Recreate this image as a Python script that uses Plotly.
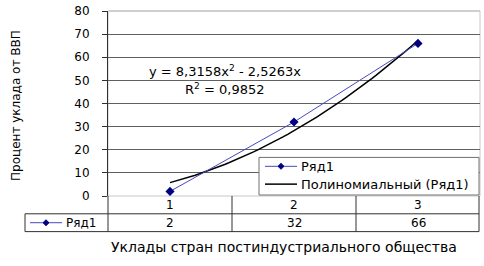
import plotly.graph_objects as go
import numpy as np

categories = [1, 2, 3]
series_name = "Ряд1"
values = [2, 32, 66]
trend_name = "Полиномиальный (Ряд1)"
trend_coef = [8.3158, -2.5263]  # a*x^2 + b*x
r2 = "0,9852"
y_ticks = [0, 10, 20, 30, 40, 50, 60, 70, 80]
y_title = "Процент уклада от ВВП"
x_title = "Уклады стран постиндустриального общества"

W, H = 484, 266
L, R, T, B = 108, 480, 9, 196  # plot area in pixels

def px(x):
    return (x - L) / (R - L)

def py(y):
    return (B - y) / (B - T)

FONT = "DejaVu Sans, Arial, sans-serif"
SER_LINE = "#4848c0"
SER_MARK = "#000080"

xt = np.linspace(categories[0], categories[-1], 60)
yt = trend_coef[0] * xt**2 + trend_coef[1] * xt

fig = go.Figure()
fig.add_trace(go.Scatter(
    x=xt, y=yt, mode="lines", name=trend_name,
    line=dict(color="black", width=1.5), showlegend=False))
fig.add_trace(go.Scatter(
    x=categories, y=values, mode="lines+markers", name=series_name,
    line=dict(color=SER_LINE, width=1),
    marker=dict(symbol="diamond", size=7, color=SER_MARK), showlegend=False))

def P(x0, y0, x1, y1, color, width=1, **kw):
    d = dict(type="line", xref="paper", yref="paper", x0=px(x0), x1=px(x1),
             y0=py(y0), y1=py(y1), line=dict(color=color, width=width))
    d.update(kw)
    return d

def diamond(cx, cy, r=3):
    return dict(type="path", xref="paper", yref="paper",
                path=f"M {px(cx)},{py(cy-r)} L {px(cx+r)},{py(cy)} L {px(cx)},{py(cy+r)} L {px(cx-r)},{py(cy)} Z",
                fillcolor=SER_MARK, line=dict(color=SER_MARK, width=1))

shapes = []
shapes.append(dict(type="rect", xref="paper", yref="paper", x0=0, x1=1, y0=0, y1=1,
                   line=dict(color="#c8c8c8", width=1), layer="below"))
# light plot-area border on top covers the top gridline
shapes.append(dict(type="line", xref="paper", yref="paper", x0=0.003, x1=1, y0=1, y1=1,
                   line=dict(color="#c8c8c8", width=1.5)))
grid = "#303030"
tbl_mid = 214
tbl_bot = 232
key_left = 25
tbl_right = 479
shapes.append(P(key_left, tbl_mid, tbl_right, tbl_mid, grid))
shapes.append(P(key_left, tbl_bot, tbl_right, tbl_bot, grid))
for xv, ytop in [(key_left, tbl_mid), (L, B), (232, B), (356, B), (tbl_right, B)]:
    shapes.append(P(xv, ytop, xv, tbl_bot, grid))
ky = (tbl_mid + tbl_bot) / 2
shapes.append(P(30, ky, 62, ky, SER_LINE))
shapes.append(diamond(46, ky))

# legend box (drawn inside the plot area)
lg_l, lg_r, lg_t, lg_b = 259, 479, 157, 195
shapes.append(dict(type="rect", xref="paper", yref="paper", x0=px(lg_l), x1=px(lg_r),
                   y0=py(lg_b), y1=py(lg_t), fillcolor="white",
                   line=dict(color="#707070", width=1)))
r1, r2y = 166, 184
shapes.append(P(265, r1, 297, r1, SER_LINE))
shapes.append(diamond(281, r1))
shapes.append(P(265, r2y, 297, r2y, "black", 1.5))

def A(x, y, text, size, **kw):
    d = dict(x=px(x), y=py(y), xref="paper", yref="paper", text=text, showarrow=False,
             xanchor="center", yanchor="middle",
             font=dict(size=size, color="black", family=FONT))
    d.update(kw)
    return d

ann = []
cat_x = [170, 294, 418]
for c, v, cx in zip(categories, values, cat_x):
    ann.append(A(cx, (B + tbl_mid) / 2 + 0.5, str(c), 12))
    ann.append(A(cx, ky + 0.5, str(v), 12))
ann.append(A(64, ky + 0.5, series_name, 12, xanchor="left"))
eq = f"y = {trend_coef[0]:.4f}x<sup>2</sup> - {abs(trend_coef[1]):.4f}x".replace(".", ",")
ann.append(A(225, 70, eq, 13))
ann.append(A(225, 88, f"R<sup>2</sup> = {r2}", 13))
ann.append(A(16, 105, y_title, 12, textangle=-90))
ann.append(A(284, 248, x_title, 14))
ann.append(A(299, r1 + 0.5, series_name, 13, xanchor="left"))
ann.append(A(299, r2y + 0.5, trend_name, 13, xanchor="left"))

fig.update_layout(
    width=W, height=H,
    margin=dict(l=L, r=W - R, t=T, b=H - B, pad=0),
    paper_bgcolor="white", plot_bgcolor="white",
    showlegend=False,
    xaxis=dict(range=[0.5, 3.5], showticklabels=False, showgrid=False, zeroline=False,
               showline=False, ticks="", fixedrange=True),
    yaxis=dict(range=[0, 80], tickvals=y_ticks, showgrid=True, gridcolor="#606060", gridwidth=1,
               zeroline=False, showline=True, linecolor="#303030", linewidth=1,
               ticks="outside", ticklen=5, tickcolor="#303030", ticklabelstandoff=10,
               tickfont=dict(size=12, color="black", family=FONT), fixedrange=True),
    shapes=shapes, annotations=ann,
)
fig.write_html("out.html", config={"displayModeBar": False},
               post_script="document.body.style.margin='0';")
